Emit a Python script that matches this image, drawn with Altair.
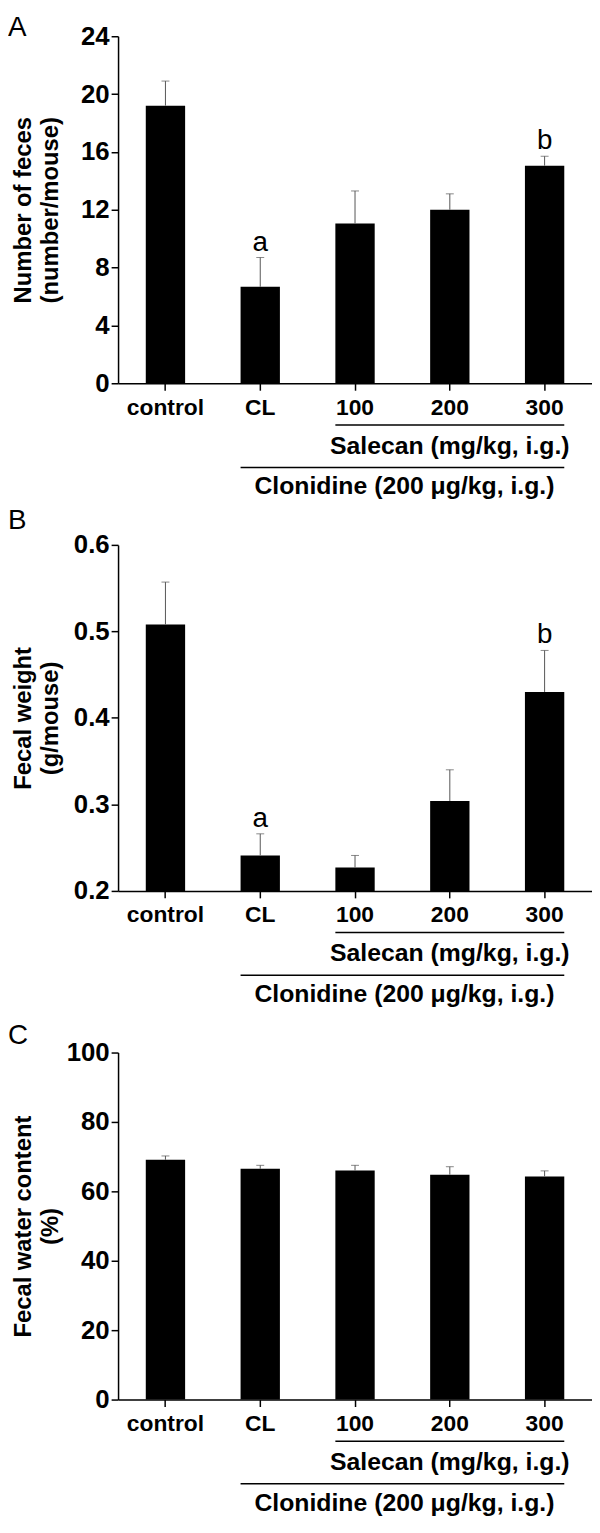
import altair as alt
import pandas as pd

groups = ["control", "CL", "100", "200", "300"]

feces_mean = [19.2, 6.67, 11.05, 12.0, 15.05]
feces_err = [1.7, 2.03, 2.25, 1.1, 0.65]
feces_sig = ["", "a", "", "", "b"]

weight_mean = [0.508, 0.241, 0.227, 0.304, 0.430]
weight_err = [0.049, 0.025, 0.014, 0.036, 0.048]
weight_sig = ["", "a", "", "", "b"]

water_mean = [69.1, 66.5, 66.0, 64.8, 64.3]
water_err = [1.1, 1.0, 1.5, 2.3, 1.6]
water_sig = ["", "", "", "", ""]

salecan_label = "Salecan (mg/kg, i.g.)"
clonidine_label = "Clonidine (200 \u03bcg/kg, i.g.)"

FONT = "Liberation Sans"
W = 478


def xscale():
    return alt.Scale(domain=groups, paddingInner=0.585, paddingOuter=0.2925)


def panel(letter, letter_y, means, errs, sigs, ytitle, domain, ticks, fmt, height):
    df = pd.DataFrame({
        "group": groups,
        "mean": means,
        "top": [m + e for m, e in zip(means, errs)],
        "sig": sigs,
        "base": [domain[0]] * len(groups),
    })
    ann = pd.DataFrame({"s0": ["100"], "s1": ["300"], "c0": ["CL"], "mid": ["200"],
                        "sal": [salecan_label], "clo": [clonidine_label], "letter": [letter]})
    yscale = alt.Scale(domain=domain, zero=False, nice=False)
    xn = lambda f, bp=None: (alt.X(f, scale=xscale(), axis=None, bandPosition=bp)
                             if bp is not None else alt.X(f, scale=xscale(), axis=None))

    bars = alt.Chart(df).mark_bar(color="black").encode(
        x=alt.X("group:N", scale=xscale(), title=None,
                axis=alt.Axis(labelAngle=0, labelPadding=6, labelFontSize=23)),
        y=alt.Y("mean:Q", scale=yscale,
                axis=alt.Axis(title=ytitle, values=ticks, format=fmt, titleX=-83,
                              titleLineHeight=27, labelPadding=2, labelFontSize=26)),
        y2="base:Q",
    )
    err = alt.Chart(df).mark_rule(color="#555555", strokeWidth=1).encode(
        x=xn("group:N"), y=alt.Y("mean:Q", scale=yscale, axis=None), y2="top:Q")
    cap = alt.Chart(df).mark_tick(color="#555555", thickness=1, size=8).encode(
        x=xn("group:N"), y=alt.Y("top:Q", scale=yscale, axis=None))
    sig = alt.Chart(df).mark_text(font=FONT, fontSize=28, baseline="bottom", dy=-1,
                                  color="black").encode(
        x=xn("group:N"), y=alt.Y("top:Q", scale=yscale, axis=None), text="sig:N")

    line1 = alt.Chart(ann).mark_rule(color="black", strokeWidth=1.5).encode(
        x=xn("s0:N", 0), x2=alt.X2("s1:N", bandPosition=1),
        y=alt.value(height + 42))
    line2 = alt.Chart(ann).mark_rule(color="black", strokeWidth=1.5).encode(
        x=xn("c0:N", 0), x2=alt.X2("s1:N", bandPosition=1),
        y=alt.value(height + 85))
    t1 = alt.Chart(ann).mark_text(font=FONT, fontSize=25, fontWeight="bold",
                                  baseline="middle", color="black").encode(
        x=xn("mid:N", 0.5), y=alt.value(height + 63), text="sal:N")
    t2 = alt.Chart(ann).mark_text(font=FONT, fontSize=25, fontWeight="bold",
                                  baseline="middle", dx=30, color="black").encode(
        x=xn("s0:N", 1), y=alt.value(height + 104), text="clo:N")
    lab = alt.Chart(ann).mark_text(font=FONT, fontSize=28, align="left",
                                   baseline="middle", color="black").encode(
        x=alt.value(-111), y=alt.value(letter_y), text="letter:N")

    return alt.layer(bars, err, cap, sig, line1, line2, t1, t2, lab).resolve_axis(
        x="independent", y="independent").properties(width=W, height=height)


pa = panel("A", -8, feces_mean, feces_err, feces_sig,
           ["Number of feces", "(number/mouse)"], [0, 24], [0, 4, 8, 12, 16, 20, 24], "d", 350)
pb = panel("B", -24, weight_mean, weight_err, weight_sig,
           ["Fecal weight", "(g/mouse)"], [0.2, 0.6], [0.2, 0.3, 0.4, 0.5, 0.6], ".1f", 349)
pc = panel("C", -17, water_mean, water_err, water_sig,
           ["Fecal water content", "(%)"], [0, 100], [0, 20, 40, 60, 80, 100], "d", 350)

chart = alt.vconcat(pa, pb, pc, spacing=163, bounds="flush").properties(
    padding=0
).configure_view(stroke=None).configure_axis(
    grid=False,
    domainColor="black", domainWidth=1.5,
    tickColor="black", tickWidth=1.5, tickSize=7,
    labelFont=FONT, labelFontWeight="bold", labelFontSize=22, labelColor="black",
    titleFont=FONT, titleFontWeight="bold", titleFontSize=24, titleColor="black",
)

chart.save("out.html", embed_options={"renderer": "svg", "actions": False})
